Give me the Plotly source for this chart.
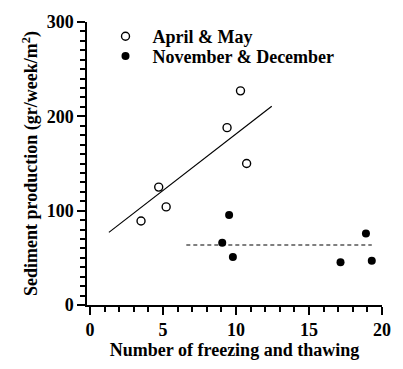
import plotly.graph_objects as go

# April & May (open circles)
am_x = [3.5, 4.71, 5.22, 9.39, 10.31, 10.73]
am_y = [89, 125, 104, 188, 227, 150]
# November & December (filled circles)
nd_x = [9.06, 9.53, 9.79, 17.16, 18.9, 19.3]
nd_y = [66, 95.5, 51, 45.4, 75.7, 47]
# regression line (April & May) and mean line (November & December)
fit_x = [1.3, 12.45]
fit_y = [77, 210.6]
mean_x = [6.6, 19.3]
mean_y = [63.6, 63.6]

FONT = "Liberation Serif"

fig = go.Figure()
fig.add_trace(go.Scatter(x=am_x, y=am_y, mode="markers", name="April & May", legend="legend",
                         marker=dict(symbol="circle-open", size=8, color="black",
                                     line=dict(width=1.4, color="black"))))
fig.add_trace(go.Scatter(x=nd_x, y=nd_y, mode="markers", name="November & December", legend="legend2",
                         marker=dict(symbol="circle", size=8, color="black")))
fig.add_trace(go.Scatter(x=fit_x, y=fit_y, mode="lines", showlegend=False,
                         line=dict(color="black", width=1.2)))
fig.add_trace(go.Scatter(x=mean_x, y=mean_y, mode="lines", showlegend=False,
                         line=dict(color="black", width=1.2, dash="4px,3px")))

tf = dict(family=FONT, size=18, color="black", weight="bold")

fig.update_layout(
    width=403, height=369,
    margin=dict(l=87, r=14, t=14, b=57),
    paper_bgcolor="white", plot_bgcolor="white",
    xaxis=dict(range=[-0.2, 20], dtick=5, showline=True, linecolor="black", linewidth=1.5,
               showgrid=False, zeroline=False, ticks="outside", ticklen=8, tickwidth=2,
               tickcolor="#000000", tickfont=tf,
               minor=dict(ticks="outside", ticklen=5, tickwidth=1.6, tickcolor="#000000", dtick=1),
               title=dict(text="Number of freezing and thawing", standoff=4, font=tf)),
    yaxis=dict(range=[0, 300], dtick=100, showline=True, linecolor="black", linewidth=1.5,
               showgrid=False, zeroline=False, ticks="outside", ticklen=8, tickwidth=2,
               tickcolor="#000000", tickfont=tf,
               minor=dict(ticks="outside", ticklen=5, tickwidth=1.6, tickcolor="#000000", dtick=10),
               title=dict(text="Sediment production (gr/week/m<sup>2</sup>)", standoff=4, font=tf)),
    legend=dict(x=0.039, y=0.9487, xanchor="left", yanchor="middle", bgcolor="rgba(0,0,0,0)",
                font=tf, itemwidth=44),
    legend2=dict(x=0.039, y=0.879, xanchor="left", yanchor="middle", bgcolor="rgba(0,0,0,0)",
                 font=tf, itemwidth=44),
    showlegend=True,
)

fig.write_html("out.html", config={"displayModeBar": False},
               post_script="document.body.style.margin='0';document.body.style.padding='0';")
